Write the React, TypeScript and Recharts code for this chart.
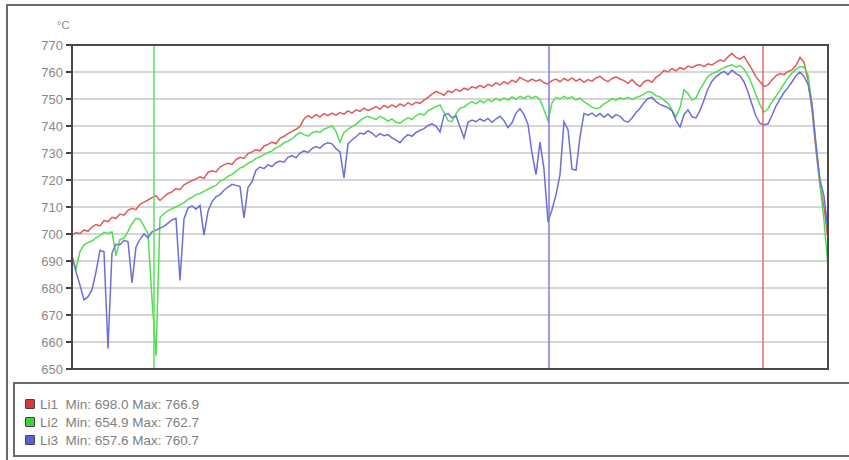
import { CartesianGrid, Line, LineChart, ReferenceLine, XAxis, YAxis } from "recharts";

// readings of the three sensors, one sample every step along the run
const LI1 = [
  699.6, 700.5, 700.2, 701.5, 701.0, 702.6, 703.5, 703.0, 705.0, 704.6,
  706.2, 705.8, 707.4, 707.0, 708.8, 709.5, 709.0, 711.0, 711.8, 712.6,
  713.5, 714.2, 712.4, 713.8, 715.0, 715.6, 716.8, 716.4, 718.2, 719.0,
  719.8, 720.4, 721.2, 720.6, 722.8, 723.4, 723.0, 724.8, 725.6, 726.2,
  725.8, 727.6, 728.4, 728.0, 729.8, 730.4, 731.2, 730.8, 732.6, 733.2,
  734.0, 733.4, 735.4, 736.2, 737.2, 738.0, 738.8, 739.8, 742.6, 743.8,
  743.0, 744.2, 743.4, 744.6, 743.8, 744.8, 744.0, 745.0, 744.4, 745.6,
  744.8, 746.0, 745.4, 746.6, 745.8, 746.4, 747.2, 746.2, 747.6, 746.8,
  747.8, 747.0, 748.2, 747.4, 748.6, 747.8, 748.8, 748.4, 749.6, 750.6,
  751.8, 752.8, 752.2, 751.4, 753.0, 752.4, 753.6, 752.8, 754.0, 753.4,
  754.6, 754.0, 755.0, 754.2, 755.4, 754.8, 756.0, 755.2, 756.4, 755.6,
  757.0, 756.2, 758.0, 757.2, 756.4, 757.4, 756.6, 757.2, 756.0, 755.6,
  756.8, 757.4, 756.4, 757.6, 756.8, 757.8, 756.6, 757.4, 756.2, 757.2,
  756.6, 757.8, 758.4, 757.2, 756.4, 757.6, 758.2, 757.4, 756.8, 755.8,
  757.2, 755.6, 754.6, 756.4, 757.0, 756.2, 758.0, 759.0, 760.6, 760.0,
  761.2, 760.4, 761.6, 761.0, 762.2, 761.6, 762.4, 762.8, 762.0, 763.0,
  762.6, 763.6, 764.4, 764.0, 765.6, 766.9, 765.4, 764.8, 765.8, 763.4,
  761.0, 758.2, 756.4, 754.6, 755.2, 757.0, 758.6, 759.4, 759.0, 760.2,
  760.8, 762.4, 765.4, 763.6, 757.0, 746.0, 731.0, 718.0, 710.0, 698.0,
];

const LI2 = [
  691.5, 687.0, 693.5, 696.0, 696.8, 697.4, 698.6, 699.4, 700.6, 700.2,
  700.8, 692.0, 698.0, 698.4, 701.0, 703.8, 705.8, 705.4, 702.8, 700.2,
  676.0, 654.9, 706.0, 707.6, 708.6, 709.4, 710.0, 710.8, 711.6, 712.8,
  713.6, 714.6, 715.0, 715.8, 716.6, 717.4, 718.0, 719.6, 720.2, 721.4,
  722.0, 723.2, 724.4, 725.0, 726.2, 726.8, 728.0, 728.6, 729.4, 730.2,
  730.8, 732.0, 732.6, 733.8, 734.4, 735.2, 736.6, 737.6, 736.8, 736.2,
  737.4, 738.0, 737.6, 738.8, 739.4, 740.0, 738.0, 734.0, 737.6, 738.8,
  739.8, 740.6, 742.0, 743.0, 743.6, 743.0, 742.4, 743.6, 742.8, 741.8,
  742.6, 741.4, 741.0, 742.2, 743.0, 742.4, 743.8, 744.6, 744.0, 745.6,
  746.4, 747.2, 747.8, 745.0, 742.0, 741.6, 744.6, 746.6, 747.0, 748.2,
  749.0, 748.2, 749.4, 748.6, 749.8, 749.0, 750.2, 749.4, 750.4, 749.6,
  750.8, 750.0, 751.0, 750.2, 751.2, 750.4, 751.0, 749.8, 746.0, 742.0,
  748.6, 750.6, 750.0, 751.0, 750.2, 750.8, 749.6, 750.4, 749.0, 748.0,
  747.0, 746.4, 746.8, 748.2, 749.0, 750.2, 749.6, 750.4, 750.0, 750.6,
  749.8, 750.6, 751.0, 751.8, 752.8, 752.4, 751.2, 750.8, 749.6, 748.4,
  746.0, 743.4, 746.8, 753.4, 752.0, 749.6, 750.4, 753.6, 756.0, 758.4,
  759.4, 760.0, 760.8, 761.6, 762.2, 762.7, 761.8, 762.4, 761.0, 758.8,
  755.4, 751.6, 747.8, 745.2, 746.4, 749.0, 751.0, 753.2, 755.6, 757.8,
  759.6, 761.0, 762.0, 761.8, 759.0, 748.0, 733.0, 718.0, 705.0, 688.0,
];

const LI3 = [
  692.0, 686.0, 681.0, 675.6, 676.8, 679.4, 686.0, 694.0, 693.4, 657.6,
  693.0, 696.2, 696.0, 697.6, 697.2, 682.0, 695.2, 698.0, 700.0, 698.6,
  700.8, 701.4, 702.2, 702.8, 704.0, 705.2, 705.8, 682.8, 705.6, 709.6,
  710.4, 709.2, 710.6, 699.6, 708.4, 712.0, 713.8, 714.6, 716.2, 717.4,
  718.4, 718.0, 717.6, 706.0, 717.2, 719.4, 723.6, 724.8, 724.2, 725.6,
  725.0, 726.4, 727.0, 726.6, 728.4, 729.0, 728.2, 730.0, 730.8, 730.2,
  731.6, 732.4, 731.8, 733.2, 733.8, 733.4, 731.6, 730.4, 720.8, 733.4,
  734.8, 736.0, 737.4, 737.0, 738.2, 737.4, 736.0, 737.2, 736.4, 736.8,
  735.6, 734.8, 733.8, 735.6, 736.8, 736.2, 737.6, 738.4, 739.0, 740.2,
  740.8, 740.0, 737.8, 744.0, 744.6, 743.0, 743.8, 739.6, 735.6, 741.4,
  742.2, 741.6, 742.6, 741.8, 742.8, 741.4, 742.6, 743.6, 742.0, 739.4,
  741.2, 744.8, 746.4, 744.2, 740.6, 730.0, 722.0, 734.0, 724.0, 704.4,
  709.0, 714.6, 722.0, 741.6, 738.6, 724.0, 723.6, 736.0, 744.6, 744.0,
  744.8, 743.6, 744.6, 743.2, 744.4, 743.0, 744.2, 743.6, 742.0, 741.4,
  743.0, 745.0, 746.6, 748.6, 750.2, 750.6, 749.0, 748.0, 747.4, 746.8,
  745.6, 742.0, 739.6, 744.2, 746.0, 743.4, 743.0, 745.8, 749.6, 753.8,
  756.6, 758.2, 759.4, 760.2, 759.0, 760.7, 759.4, 758.6, 756.4, 752.6,
  748.0, 743.6, 741.0, 740.4, 740.8, 744.0, 747.4, 750.0, 752.4, 754.2,
  756.4, 758.6, 760.0, 758.4, 755.4, 748.0, 733.0, 720.0, 714.0, 701.0,
];

const Y_TICKS = [650, 660, 670, 680, 690, 700, 710, 720, 730, 740, 750, 760, 770];

// cursor positions (sample index) for each sensor
const CURSORS = [
  { x: 20.5, color: "#5fdf5f" },
  { x: 119.25, color: "#7c7cdc" },
  { x: 172.75, color: "#e06a6a" },
];

const SERIES = [
  { key: "li1", name: "Li1", color: "#e05a5a", swatch: "#d63a3a", min: "698.0", max: "766.9" },
  { key: "li2", name: "Li2", color: "#52de52", swatch: "#3fd23f", min: "654.9", max: "762.7" },
  { key: "li3", name: "Li3", color: "#6e6ed8", swatch: "#6060d0", min: "657.6", max: "760.7" },
];

const data = LI1.map((v, i) => ({ i, li1: v, li2: LI2[i], li3: LI3[i] }));

export default function App() {
  return (
    <div
      style={{
        position: "absolute",
        left: 0,
        top: 0,
        width: 849,
        height: 460,
        overflow: "hidden",
        background: "#fff",
        fontFamily: "'Liberation Sans', Arial, sans-serif",
      }}
    >
      <div
        style={{
          position: "absolute",
          left: 6,
          top: 4,
          width: 860,
          height: 470,
          borderTop: "2px solid #6a6a6a",
          borderLeft: "2px solid #6a6a6a",
        }}
      />
      <div style={{ position: "absolute", left: 57, top: 19, fontSize: 11, color: "#8a8a8a" }}>°C</div>

      <LineChart
        width={849}
        height={380}
        data={data}
        margin={{ top: 45, right: 21, bottom: 11, left: 0 }}
        style={{ position: "absolute", left: 0, top: 0 }}
      >
        <CartesianGrid vertical={false} stroke="#c9c9c9" strokeWidth={1.5} />
        <XAxis dataKey="i" type="number" domain={[0, LI1.length - 1]} hide />
        <YAxis
          width={72}
          domain={[650, 770]}
          ticks={Y_TICKS}
          interval={0}
          tickSize={6}
          tickMargin={3}
          axisLine={{ stroke: "#444", strokeWidth: 2 }}
          tickLine={{ stroke: "#444", strokeWidth: 2 }}
          tick={{ fill: "#8a8a8a", fontSize: 13 }}
        />
        {SERIES.map((s) => (
          <Line
            key={s.key}
            dataKey={s.key}
            type="linear"
            stroke={s.color}
            strokeWidth={1.5}
            dot={false}
            isAnimationActive={false}
          />
        ))}
        {CURSORS.map((c) => (
          <ReferenceLine key={c.x} x={c.x} stroke={c.color} strokeWidth={1.5} />
        ))}
      </LineChart>

      <div
        style={{
          position: "absolute",
          left: 71,
          top: 44,
          width: 758,
          height: 326,
          boxSizing: "border-box",
          border: "2px solid #4a4a4a",
          pointerEvents: "none",
        }}
      />

      <div
        style={{
          position: "absolute",
          left: 13,
          top: 382,
          width: 860,
          height: 75,
          boxSizing: "border-box",
          border: "2px solid #6a6a6a",
        }}
      >
        {SERIES.map((s, k) => (
          <div
            key={s.key}
            style={{
              position: "absolute",
              left: 10,
              top: 12 + k * 18,
              height: 16,
              display: "flex",
              alignItems: "center",
              fontSize: 13.5,
              color: "#808080",
              whiteSpace: "pre",
            }}
          >
            <span
              style={{
                display: "inline-block",
                width: 8,
                height: 8,
                background: s.swatch,
                border: "1px solid #444",
                borderRadius: 1,
                marginRight: 5,
              }}
            />
            {`${s.name}  Min: ${s.min} Max: ${s.max}`}
          </div>
        ))}
      </div>
    </div>
  );
}
